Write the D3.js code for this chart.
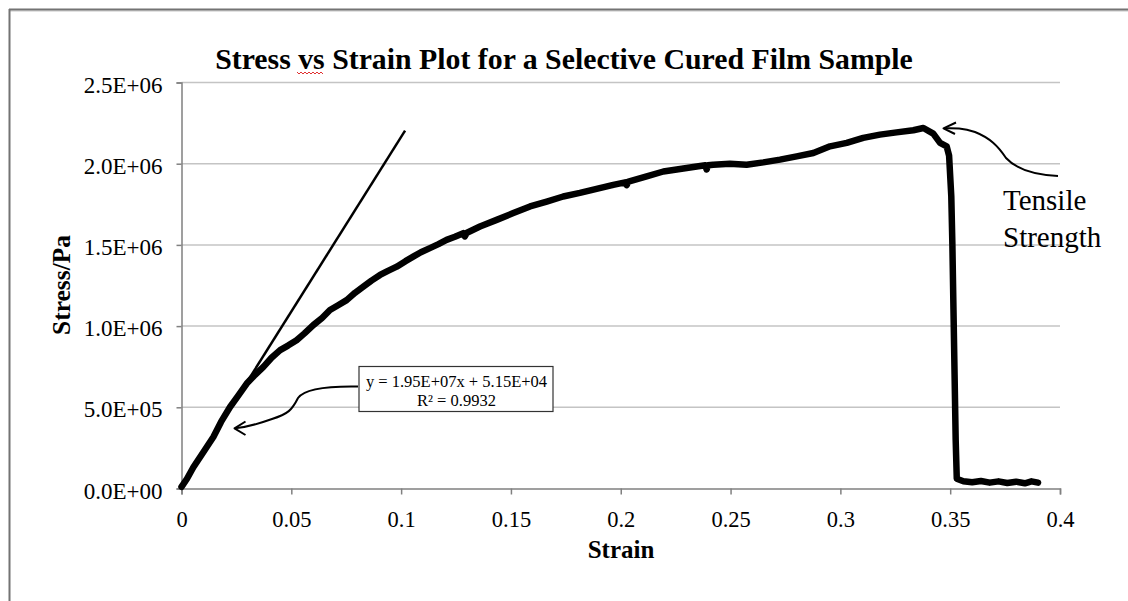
<!DOCTYPE html>
<html>
<head>
<meta charset="utf-8">
<script src="https://cdn.jsdelivr.net/npm/d3@7"></script>
<style>
  html, body { margin: 0; padding: 0; background: #fff; }
  svg { display: block; }
  text { font-family: "Liberation Serif", "Times New Roman", serif; fill: #000; }
</style>
</head>
<body>
<svg id="chart" width="1128" height="601"></svg>
<script>
// ---- data ----
const xTickValues = [0, 0.05, 0.1, 0.15, 0.2, 0.25, 0.3, 0.35, 0.4];
const xTickLabels = ["0", "0.05", "0.1", "0.15", "0.2", "0.25", "0.3", "0.35", "0.4"];
const yTickValues = [0, 500000, 1000000, 1500000, 2000000, 2500000];
const yTickLabels = ["0.0E+00", "5.0E+05", "1.0E+06", "1.5E+06", "2.0E+06", "2.5E+06"];

const strain = [
  0, 0.0025, 0.0054, 0.010, 0.0145, 0.018, 0.0221, 0.026, 0.0297, 0.0335,
  0.0373, 0.041, 0.0449, 0.0485, 0.0524, 0.056, 0.060, 0.064, 0.0676, 0.0715,
  0.0752, 0.079, 0.0828, 0.0865, 0.0904, 0.094, 0.098, 0.102, 0.1055, 0.109,
  0.1131, 0.117, 0.1207, 0.1245, 0.1283, 0.1290, 0.1300, 0.1359, 0.1435, 0.1511,
  0.1587, 0.1663, 0.1738, 0.1814, 0.189, 0.1966, 0.2020, 0.2027, 0.2035, 0.2118,
  0.2194, 0.227, 0.2346, 0.2385, 0.2391, 0.2397, 0.2421, 0.2497, 0.2573, 0.2649,
  0.2725, 0.2801, 0.2877, 0.2953, 0.3029, 0.3104, 0.318, 0.3256, 0.3332, 0.3378,
  0.3423, 0.3454, 0.3484, 0.3495, 0.3505, 0.3510, 0.3515, 0.3520, 0.3525, 0.3530,
  0.3560, 0.3600, 0.3640, 0.3680, 0.3720, 0.3760, 0.3800, 0.3840, 0.3870, 0.3900
];
const stress = [
  10000, 60000, 131000, 225000, 317000, 410000, 502000, 575000, 646000, 700000,
  749000, 805000, 852000, 880000, 913000, 955000, 1006000, 1050000, 1099000, 1130000,
  1160000, 1205000, 1243000, 1280000, 1315000, 1340000, 1366000, 1400000, 1428000, 1455000,
  1480000, 1505000, 1531000, 1550000, 1572000, 1552000, 1575000, 1613000, 1654000, 1696000,
  1737000, 1767000, 1798000, 1820000, 1845000, 1870000, 1885000, 1868000, 1890000, 1922000,
  1952000, 1967000, 1983000, 1990000, 1965000, 1990000, 1994000, 2000000, 1994000, 2008000,
  2025000, 2045000, 2066000, 2107000, 2128000, 2159000, 2179000, 2193000, 2206000, 2220000,
  2185000, 2128000, 2107000, 2050000, 1800000, 1500000, 1100000, 700000, 300000, 60000,
  45000, 38000, 46000, 36000, 44000, 34000, 42000, 32000, 44000, 36000
];

// hand-drawn tangent line (endpoints)
const fitStrain = [0.03, 0.1018];
const fitStress = [659000, 2204000];

const titleText = "Stress vs Strain Plot for a Selective Cured Film Sample";
const xTitle = "Strain";
const yTitle = "Stress/Pa";
const eqLines = ["y = 1.95E+07x + 5.15E+04", "R² = 0.9932"];
const annotLines = ["Tensile", "Strength"];

// ---- drawing ----
const svg = d3.select("#chart");
const x = d3.scaleLinear().domain([0, 0.4]).range([181.5, 1060]);
const y = d3.scaleLinear().domain([0, 2500000]).range([488.5, 82.5]);

// outer frame (top and left edges)
svg.append("line").attr("x1", 9).attr("x2", 1128).attr("y1", 11).attr("y2", 11)
  .attr("stroke", "#e2e2e2").attr("stroke-width", 2);
svg.append("line").attr("x1", 9).attr("x2", 1128).attr("y1", 9.5).attr("y2", 9.5)
  .attr("stroke", "#737373").attr("stroke-width", 2);
svg.append("line").attr("x1", 9.5).attr("x2", 9.5).attr("y1", 9).attr("y2", 601)
  .attr("stroke", "#737373").attr("stroke-width", 2);

// gridlines
svg.append("g").selectAll("line").data(yTickValues.filter(v => v > 0)).join("line")
  .attr("x1", x(0)).attr("x2", x(0.4))
  .attr("y1", d => y(d)).attr("y2", d => y(d))
  .attr("stroke", "#c4c4c4").attr("stroke-width", 1.5);

// y axis
const yAxis = svg.append("g").attr("transform", `translate(${x(0)},0)`)
  .call(d3.axisLeft(y).tickValues(yTickValues).tickSize(5).tickPadding(14)
    .tickFormat((d, i) => yTickLabels[i]));
yAxis.select(".domain").attr("stroke", "#808080").attr("stroke-width", 1.5);
yAxis.selectAll(".tick line").attr("stroke", "#808080").attr("stroke-width", 1.5);
yAxis.selectAll(".tick text")
  .style("font-family", "'Liberation Serif', serif").style("font-size", "23px")
  .attr("fill", "#000").attr("dy", "0.42em");

// x axis
const xAxis = svg.append("g").attr("transform", `translate(0,${y(0)})`)
  .call(d3.axisBottom(x).tickValues(xTickValues).tickSize(6).tickPadding(17)
    .tickFormat((d, i) => xTickLabels[i]));
xAxis.select(".domain").attr("stroke", "#808080").attr("stroke-width", 1.5);
xAxis.selectAll(".tick line").attr("stroke", "#808080").attr("stroke-width", 1.5);
xAxis.selectAll(".tick text")
  .style("font-family", "'Liberation Serif', serif").style("font-size", "22.5px")
  .attr("fill", "#000");

// tangent line
svg.append("line")
  .attr("x1", x(fitStrain[0])).attr("y1", y(fitStress[0]))
  .attr("x2", x(fitStrain[1])).attr("y2", y(fitStress[1]))
  .attr("stroke", "#000").attr("stroke-width", 2.5);

// data curve
const pts = strain.map((s, i) => [s, stress[i]]);
svg.append("path").datum(pts)
  .attr("d", d3.line().x(d => x(d[0])).y(d => y(d[1])))
  .attr("fill", "none").attr("stroke", "#000").attr("stroke-width", 6.5)
  .attr("stroke-linejoin", "round").attr("stroke-linecap", "round");

// title
svg.append("text").attr("x", 564).attr("y", 69).attr("text-anchor", "middle")
  .style("font-size", "29.8px").style("font-weight", "bold").text(titleText);
// spellcheck squiggle under "vs"
const sq = d3.path();
sq.moveTo(297, 72);
for (let k = 0; k < 13; k++) { sq.lineTo(299 + k * 2, k % 2 === 0 ? 74 : 72); }
svg.append("path").attr("d", sq.toString()).attr("fill", "none")
  .attr("stroke", "#e03030").attr("stroke-width", 1);

// axis titles
svg.append("text").attr("x", 621).attr("y", 558).attr("text-anchor", "middle")
  .style("font-size", "25px").style("font-weight", "bold").text(xTitle);
svg.append("text").attr("transform", "translate(70,285) rotate(-90)")
  .attr("text-anchor", "middle")
  .style("font-size", "25.5px").style("font-weight", "bold").text(yTitle);

// equation box
svg.append("rect").attr("x", 359).attr("y", 366.5).attr("width", 194).attr("height", 45)
  .attr("fill", "#fff").attr("stroke", "#333").attr("stroke-width", 1.2);
svg.append("text").attr("x", 456.5).attr("y", 387).attr("text-anchor", "middle")
  .style("font-size", "16.5px").text(eqLines[0]);
svg.append("text").attr("x", 456.5).attr("y", 406).attr("text-anchor", "middle")
  .style("font-size", "16.5px").text(eqLines[1]);

// curved arrow to linear region
svg.append("path")
  .attr("d", "M358,386.5 C330,386 305,388 298,398 C292,410 288,414 272,419 C258,424 248,427 235,428.3")
  .attr("fill", "none").attr("stroke", "#000").attr("stroke-width", 2);
svg.append("path").attr("d", "M245.5,421.5 L234.5,428.3 L245.5,435")
  .attr("fill", "none").attr("stroke", "#000").attr("stroke-width", 2)
  .attr("stroke-linejoin", "round");

// curved arrow to tensile strength
svg.append("path")
  .attr("d", "M1058,176 C1038,175 1018,171 1006,158 C998,146 990,138 975,132 C963,128 955,128 944,128.3")
  .attr("fill", "none").attr("stroke", "#000").attr("stroke-width", 2);
svg.append("path").attr("d", "M956,122.5 L943.5,128.3 L955,134")
  .attr("fill", "none").attr("stroke", "#000").attr("stroke-width", 2)
  .attr("stroke-linejoin", "round");

svg.append("text").attr("x", 1003).attr("y", 210).style("font-size", "29px").text(annotLines[0]);
svg.append("text").attr("x", 1003).attr("y", 247).style("font-size", "29px").text(annotLines[1]);
</script>
</body>
</html>
